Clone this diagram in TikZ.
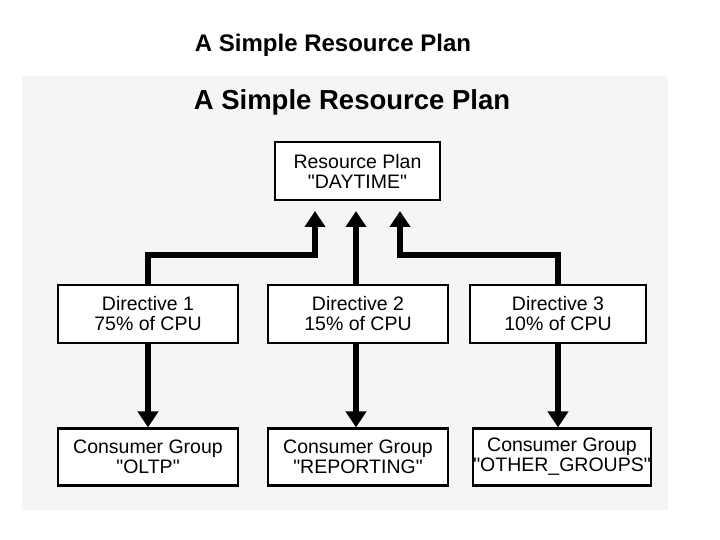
\documentclass[tikz,border=0pt]{standalone}
\usepackage{fontspec}
\setmainfont{Liberation Sans}
\usetikzlibrary{arrows.meta}
\begin{document}
\begin{tikzpicture}[x=1pt,y=-1pt,
 box/.style={draw=black,line width=2.2pt,fill=white,inner sep=0pt,align=center,font=\fontsize{19.5}{20}\selectfont},
 arr/.style={line width=5.5pt,-{Triangle[length=16pt,width=20pt]}}]
\useasboundingbox (0,0) rectangle (720,540);
\fill[gray!8] (22,76) rectangle (668,510);
\node (t1) at (333,45) {\fontsize{24}{24}\selectfont\bfseries A Simple Resource Plan};
\node (t2) at (352,102) {\fontsize{27.5}{27.5}\selectfont\bfseries A Simple Resource Plan};
\node[box,minimum width=165pt,minimum height=58pt] (rp) at (357.5,171) {Resource Plan\\\textquotedbl DAYTIME\textquotedbl};
\node[box,minimum width=180pt,minimum height=58pt] (d1) at (148,314) {Directive 1\\75\% of CPU};
\node[box,minimum width=180pt,minimum height=58pt] (d2) at (358,314) {Directive 2\\15\% of CPU};
\node[box,minimum width=176pt,minimum height=58pt] (d3) at (558,314) {Directive 3\\10\% of CPU};
\node[box,minimum width=180pt,minimum height=57pt] (c1) at (148,457) {Consumer Group\\\textquotedbl OLTP\textquotedbl};
\node[box,minimum width=180pt,minimum height=57pt] (c2) at (358,457) {Consumer Group\\\textquotedbl REPORTING\textquotedbl};
\node[box,minimum width=168pt,minimum height=57pt] (c3) at (562,457) {Consumer Group\\\textquotedbl OTHER\_GROUPS\textquotedbl};
\coordinate (p1) at (315,211);
\coordinate (p2) at (356,211);
\coordinate (p3) at (400,211);
\draw[arr] (d1.north -| 148,0) |- (315,255) -- (p1);
\draw[arr] (d2.north -| 356,0) -- (p2);
\draw[arr] (d3.north) |- (400,255) -- (p3);
\draw[arr] (d1.south) -- (c1.north);
\draw[arr] (d2.south -| 356,0) -- (c2.north -| 356,0);
\draw[arr] (d3.south) -- (c3.north -| d3.south);
\end{tikzpicture}
\end{document}
